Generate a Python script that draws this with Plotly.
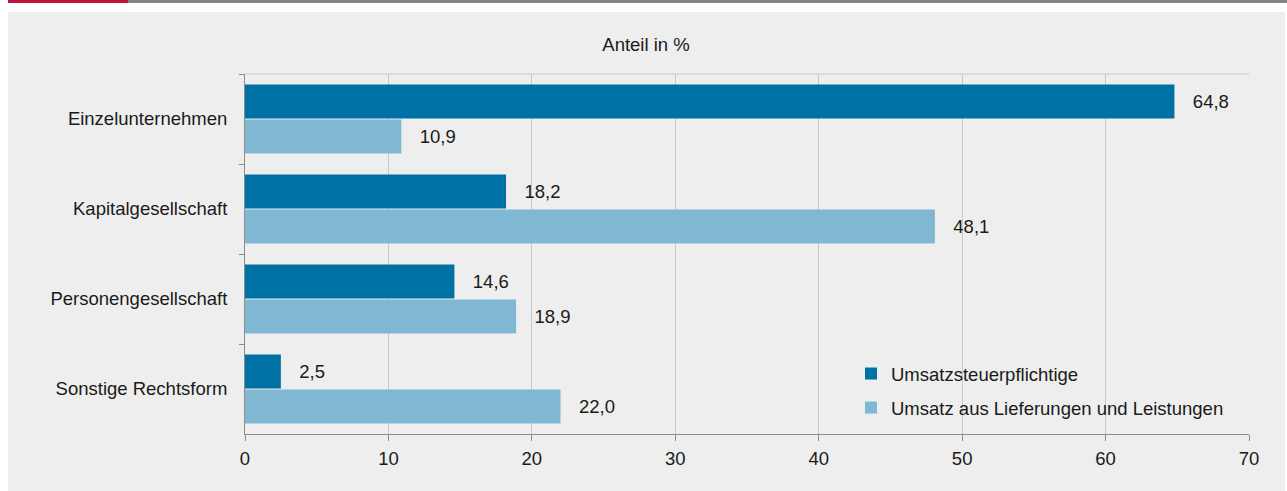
import plotly.graph_objects as go

categories = ["Einzelunternehmen", "Kapitalgesellschaft", "Personengesellschaft", "Sonstige Rechtsform"]
series_names = ["Umsatzsteuerpflichtige", "Umsatz aus Lieferungen und Leistungen"]
ust_pflichtige = [64.8, 18.2, 14.6, 2.5]
umsatz_lul = [10.9, 48.1, 18.9, 22.0]
x_ticks = [0, 10, 20, 30, 40, 50, 60, 70]
x_title = "Anteil in %"

DARK = "#0071a4"
LIGHT = "#80b8d4"
BG = "#edeeed"
TXT = "#1a1a1a"
FONT = "Liberation Sans, Arial, sans-serif"
FS = 18.5

FW, FH = 1287, 491
L, R, T, B = 245, 1249, 74, 434
W, H = R - L, B - T


def xp(px):
    return (px - L) / W


def yp(py):
    return (B - py) / H


fig = go.Figure()
label_pad = "\u00a0\u00a0\u00a0"
for name, vals, col, grp in [(series_names[0], ust_pflichtige, DARK, "g1"),
                             (series_names[1], umsatz_lul, LIGHT, "g2")]:
    fig.add_trace(go.Bar(
        y=categories, x=vals, name=name, orientation="h",
        marker=dict(color=col, line=dict(width=0)),
        texttemplate=label_pad + "%{x:.1f}", textposition="outside",
        textfont=dict(family=FONT, size=FS, color=TXT),
        cliponaxis=False, legendgroup=grp,
    ))

shapes = [
    # grey panel
    dict(type="rect", xref="paper", yref="paper", x0=xp(8), x1=xp(1285), y0=yp(12), y1=yp(491),
         fillcolor=BG, line=dict(width=0), layer="below"),
    # top red accent and grey rule
    dict(type="rect", xref="paper", yref="paper", x0=xp(8), x1=xp(128), y0=yp(0), y1=yp(3),
         fillcolor="#c0143c", line=dict(width=0), layer="below"),
    dict(type="rect", xref="paper", yref="paper", x0=xp(128), x1=xp(1287), y0=yp(0), y1=yp(3),
         fillcolor="#858585", line=dict(width=0), layer="below"),
    # top frame line of plot area
    dict(type="line", xref="paper", yref="paper", x0=0, x1=1, y0=1, y1=1,
         line=dict(color="#c8c8c8", width=1), layer="below"),
]

fig.update_layout(
    width=FW, height=FH,
    margin=dict(l=L, r=FW - R, t=T, b=FH - B, pad=0),
    paper_bgcolor="white", plot_bgcolor="rgba(0,0,0,0)",
    barmode="group", bargap=0.222, bargroupgap=0.03,
    separators=", ",
    font=dict(family=FONT, size=FS, color=TXT),
    title=dict(text=x_title, x=xp(646), xanchor="center", xref="paper",
               y=1 - 45 / FH, yanchor="middle", yref="container",
               font=dict(family=FONT, size=FS, color=TXT)),
    showlegend=True,
    legend=dict(x=xp(851), y=yp(355), xanchor="left", yanchor="top",
                bgcolor="rgba(0,0,0,0)", traceorder="grouped", tracegroupgap=7,
                font=dict(family=FONT, size=FS, color=TXT), itemwidth=30),
    shapes=shapes,
    xaxis=dict(range=[0, 70], tickvals=x_ticks, ticktext=[str(v) for v in x_ticks],
               showgrid=True, gridcolor="#c8c8c8", gridwidth=1,
               showline=True, linecolor="#8c8c8c", linewidth=1,
               ticks="outside", ticklen=6, tickcolor="#8c8c8c",
               ticklabelstandoff=2,
               zeroline=False, tickfont=dict(family=FONT, size=FS, color=TXT)),
    yaxis=dict(autorange="reversed", showgrid=False, showline=True,
               linecolor="#8c8c8c", linewidth=1, ticks="outside", ticklen=5,
               tickcolor="#8c8c8c", tickson="boundaries",
               ticklabelstandoff=13,
               tickfont=dict(family=FONT, size=FS, color=TXT)),
)

fig.write_html("out.html", config={"displayModeBar": False},
               post_script="document.body.style.margin='0';")
